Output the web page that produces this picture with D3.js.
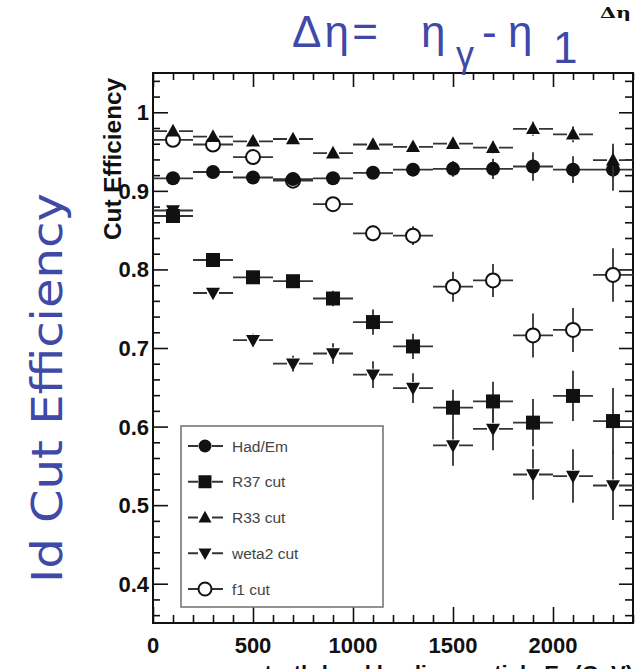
<!DOCTYPE html>
<html><head><meta charset="utf-8">
<script src="https://cdn.jsdelivr.net/npm/d3@7"></script>
<style>body{margin:0;background:#fff} svg{display:block}</style>
</head><body>
<svg id="chart" width="637" height="669"></svg>
<script>
// Bin centres (GeV) and half-widths of the horizontal error bars
const ptBins = [100, 300, 500, 700, 900, 1100, 1300, 1500, 1700, 1900, 2100, 2300];
const binHalfWidth = 100;

// Efficiency of each identification cut per bin, with statistical errors
const hadEm    = [0.916, 0.924, 0.917, 0.915, 0.916, 0.923, 0.927, 0.928, 0.928, 0.931, 0.927, 0.927];
const hadEmErr = [0.004, 0.004, 0.004, 0.005, 0.005, 0.006, 0.008, 0.010, 0.013, 0.018, 0.017, 0.027];
const r37      = [0.868, 0.812, 0.790, 0.785, 0.763, 0.733, 0.702, 0.624, 0.632, 0.605, 0.639, 0.607];
const r37Err   = [0.006, 0.006, 0.007, 0.008, 0.010, 0.016, 0.016, 0.023, 0.025, 0.030, 0.032, 0.042];
const r33      = [0.976, 0.969, 0.963, 0.966, 0.948, 0.959, 0.956, 0.960, 0.955, 0.979, 0.972, 0.939];
const r33Err   = [0.003, 0.003, 0.004, 0.004, 0.005, 0.005, 0.006, 0.007, 0.008, 0.009, 0.010, 0.021];
const weta2    = [0.875, 0.770, 0.710, 0.680, 0.693, 0.666, 0.649, 0.576, 0.597, 0.539, 0.537, 0.525];
const weta2Err = [0.006, 0.007, 0.008, 0.010, 0.013, 0.017, 0.019, 0.026, 0.027, 0.032, 0.034, 0.044];
const f1       = [0.965, 0.959, 0.943, 0.913, 0.883, 0.846, 0.843, 0.778, 0.786, 0.716, 0.723, 0.793];
const f1Err    = [0.005, 0.006, 0.007, 0.008, 0.009, 0.010, 0.012, 0.019, 0.021, 0.028, 0.028, 0.034];

const seriesNames = ["Had/Em", "R37 cut", "R33 cut", "weta2 cut", "f1 cut"];
const seriesShapes = ["circle", "square", "triangleUp", "triangleDown", "openCircle"];

// Axis ticks
const xMajorTicks = [0, 500, 1000, 1500, 2000];
const yMajorTicks = [0.4, 0.5, 0.6, 0.7, 0.8, 0.9, 1];

const series = [
  {name: seriesNames[0], shape: seriesShapes[0], y: hadEm, err: hadEmErr},
  {name: seriesNames[1], shape: seriesShapes[1], y: r37,   err: r37Err},
  {name: seriesNames[2], shape: seriesShapes[2], y: r33,   err: r33Err},
  {name: seriesNames[3], shape: seriesShapes[3], y: weta2, err: weta2Err},
  {name: seriesNames[4], shape: seriesShapes[4], y: f1,    err: f1Err}
];

const svg = d3.select("#chart");
const frame = {left: 153, right: 633, top: 73, bottom: 623};

const x = d3.scaleLinear().domain([0, 2400]).range([frame.left, frame.right]);
const y = d3.scaleLinear().domain([0.35, 1.05]).range([frame.bottom, frame.top]);

const ink = "#111";
const tickFont = "'Liberation Sans', Arial, Helvetica, sans-serif";

// ---- axes: ticks point inward on all four sides ----
const xMinor = d3.range(0, 2401, 100).filter(v => v % 500 !== 0);
const yMinor = d3.range(0.36, 1.05, 0.02).map(v => +v.toFixed(2)).filter(v => Math.abs(v * 10 - Math.round(v * 10)) > 1e-6);

function tickAxis(axisGen, transform, cls) {
  const g = svg.append("g").attr("class", cls).attr("transform", transform).call(axisGen);
  g.select(".domain").remove();
  g.selectAll("line").attr("stroke", ink).attr("stroke-width", 1.6);
  g.selectAll("text").remove();
  return g;
}
// bottom
tickAxis(d3.axisTop(x).tickValues(xMajorTicks).tickSize(16), `translate(0,${frame.bottom})`, "xb-major");
tickAxis(d3.axisTop(x).tickValues(xMinor).tickSize(8), `translate(0,${frame.bottom})`, "xb-minor");
// top
tickAxis(d3.axisBottom(x).tickValues(xMajorTicks).tickSize(14), `translate(0,${frame.top})`, "xt-major");
tickAxis(d3.axisBottom(x).tickValues(xMinor).tickSize(7), `translate(0,${frame.top})`, "xt-minor");
// left
tickAxis(d3.axisRight(y).tickValues(yMajorTicks).tickSize(15), `translate(${frame.left},0)`, "yl-major");
tickAxis(d3.axisRight(y).tickValues(yMinor).tickSize(7), `translate(${frame.left},0)`, "yl-minor");
// right
tickAxis(d3.axisLeft(y).tickValues(yMajorTicks).tickSize(14), `translate(${frame.right},0)`, "yr-major");
tickAxis(d3.axisLeft(y).tickValues(yMinor).tickSize(8), `translate(${frame.right},0)`, "yr-minor");

// frame
svg.append("rect")
  .attr("x", frame.left).attr("y", frame.top)
  .attr("width", frame.right - frame.left).attr("height", frame.bottom - frame.top)
  .attr("fill", "none").attr("stroke", ink).attr("stroke-width", 2);

// tick labels
svg.append("g").selectAll("text").data(xMajorTicks).join("text")
  .attr("x", d => x(d)).attr("y", 653)
  .attr("text-anchor", "middle")
  .attr("font-family", tickFont).attr("font-weight", "bold").attr("font-size", 22)
  .attr("fill", ink).text(d => d);

svg.append("g").selectAll("text").data(yMajorTicks).join("text")
  .attr("x", 149).attr("y", d => y(d) + 8)
  .attr("text-anchor", "end")
  .attr("font-family", tickFont).attr("font-weight", "bold").attr("font-size", 22)
  .attr("fill", ink).text(d => d === 1 ? "1" : d.toFixed(1));

// axis titles
svg.append("text")
  .attr("transform", "translate(121,78) rotate(-90)")
  .attr("text-anchor", "end")
  .attr("font-family", tickFont).attr("font-weight", "bold").attr("font-size", 23)
  .attr("textLength", 162).attr("lengthAdjust", "spacingAndGlyphs")
  .attr("fill", ink).text("Cut Efficiency");

// x title: runs below the bottom edge, only its upper part shows
const xTitle = svg.append("text")
  .attr("x", 633).attr("y", 681)
  .attr("text-anchor", "end")
  .attr("font-family", tickFont).attr("font-weight", "bold").attr("font-size", 22)
  .attr("fill", ink);
xTitle.append("tspan").text("truth-level leading particle E");
xTitle.append("tspan").attr("font-size", 15).attr("dy", 5).text("T");
xTitle.append("tspan").attr("dy", -5).text(" (GeV)");

// ---- markers ----
const markerR = 7;
function markerPath(shape, r) {
  switch (shape) {
    case "square": return `M${-r},${-r}h${2*r}v${2*r}h${-2*r}Z`;
    case "triangleUp": return `M0,${-r*1.05}L${r},${r*0.75}L${-r},${r*0.75}Z`;
    case "triangleDown": return `M0,${r*1.05}L${r},${-r*0.75}L${-r},${-r*0.75}Z`;
    default: return d3.symbol(d3.symbolCircle, Math.PI * r * r)();
  }
}
function markerStyle(sel, shape) {
  if (shape === "openCircle") {
    sel.attr("fill", "none").attr("stroke", ink).attr("stroke-width", 2);
  } else {
    sel.attr("fill", ink).attr("stroke", "none");
  }
}

const plot = svg.append("g");
series.forEach(s => {
  const g = plot.append("g").attr("class", "series");
  const pts = ptBins.map((b, i) => ({b, v: s.y[i], e: s.err[i]}));
  const gap = s.shape === "openCircle" ? markerR : markerR - 1;
  // horizontal bars (bin width), broken around the marker
  g.selectAll(".hl").data(pts).join("path")
    .attr("d", d => {
      const cx = x(d.b), cy = y(d.v);
      return `M${x(d.b - binHalfWidth)},${cy}H${cx - gap}M${cx + gap},${cy}H${x(d.b + binHalfWidth)}`;
    })
    .attr("stroke", "#333").attr("stroke-width", 1.8).attr("fill", "none");
  // vertical error bars
  g.selectAll(".vl").data(pts.filter(d => y(d.v - d.e) - y(d.v) > gap)).join("path")
    .attr("d", d => {
      const cx = x(d.b), cy = y(d.v);
      return `M${cx},${y(d.v + d.e)}V${cy - gap}M${cx},${cy + gap}V${y(d.v - d.e)}`;
    })
    .attr("stroke", "#333").attr("stroke-width", 1.8).attr("fill", "none");
  g.selectAll(".mk").data(pts).join("path")
    .attr("transform", d => `translate(${x(d.b)},${y(d.v)})`)
    .attr("d", markerPath(s.shape, markerR))
    .call(markerStyle, s.shape);
});

// ---- legend ----
const legend = svg.append("g");
legend.append("rect")
  .attr("x", 181).attr("y", 426).attr("width", 202).attr("height", 181)
  .attr("fill", "#fff").attr("stroke", "#777").attr("stroke-width", 1.6);
const legendY = d3.scalePoint().domain(seriesNames).range([446, 589]);
series.forEach(s => {
  const ly = legendY(s.name);
  legend.append("path")
    .attr("d", `M188,${ly}H${205 - markerR}M${205 + markerR},${ly}H223`)
    .attr("stroke", "#333").attr("stroke-width", 1.8);
  legend.append("path")
    .attr("transform", `translate(205,${ly})`)
    .attr("d", markerPath(s.shape, markerR - 0.5))
    .call(markerStyle, s.shape);
  legend.append("text")
    .attr("x", 232).attr("y", ly + 5.5)
    .attr("font-family", tickFont).attr("font-size", 15.5)
    .attr("fill", "#444").text(s.name);
});

// ---- annotations ----
const blue = "#4048a8";
const titleParts = [
  {t: "Δη=", x: 292, y: 47, size: 44, w: 86},
  {t: "η",   x: 421, y: 47, size: 44, w: 0},
  {t: "γ",   x: 456, y: 67, size: 36, w: 0},
  {t: "-",   x: 482, y: 47, size: 44, w: 0},
  {t: "η",   x: 508, y: 47, size: 44, w: 0},
  {t: "1",   x: 553, y: 63, size: 44, w: 0}
];
svg.append("g").selectAll("text").data(titleParts).join("text")
  .attr("x", d => d.x).attr("y", d => d.y)
  .attr("font-family", tickFont).attr("font-size", d => d.size)
  .attr("fill", blue)
  .each(function(d) { if (d.w) d3.select(this).attr("textLength", d.w).attr("lengthAdjust", "spacing"); })
  .text(d => d.t);

svg.append("text")
  .attr("x", 600).attr("y", 18)
  .attr("font-family", "'DejaVu Serif', 'Liberation Serif', serif").attr("font-weight", "bold").attr("font-size", 15)
  .attr("textLength", 31).attr("lengthAdjust", "spacingAndGlyphs")
  .attr("fill", ink).text("Δη");

svg.append("text")
  .attr("transform", "translate(62,388) rotate(-90)")
  .attr("text-anchor", "middle")
  .attr("font-family", "'DejaVu Sans', sans-serif").attr("font-size", 42)
  .attr("textLength", 390).attr("lengthAdjust", "spacingAndGlyphs")
  .attr("fill", blue).text("Id Cut Efficiency");
</script>
</body></html>
